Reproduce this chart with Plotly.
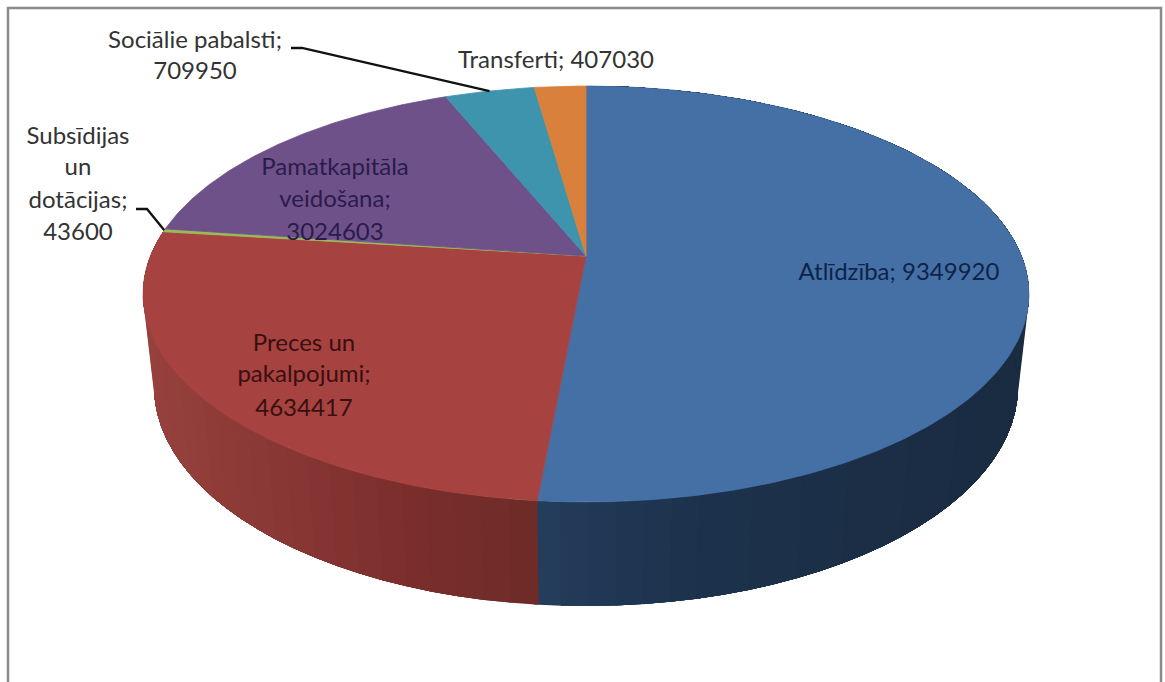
import numpy as np
import plotly.graph_objects as go

# --- data -------------------------------------------------------------
categories = ["Atlīdzība", "Preces un pakalpojumi", "Subsīdijas un dotācijas",
              "Pamatkapitāla veidošana", "Sociālie pabalsti", "Transferti"]
values = [9349920, 4634417, 43600, 3024603, 709950, 407030]
top_colors = ["#4470a6", "#a64240", "#9bbb59", "#6f5189", "#3e93ad", "#d9813c"]

W, H = 1165, 682
FONT = "Lato"
FS = 24

# --- projection of the tilted disc (pixel axes, y down) ---------------
CX, CY = 586.0, 256.0
A, B, K = 435.5, 201.0, 0.1827
C, M = 93.7, 0.0246


def proj(theta, h=0.0):
    u, v = np.sin(theta), np.cos(theta)
    d = 1 + K * v + M * h
    return CX + A * u / d, CY + (-B * v + C * h) / d


fractions = np.array(values, dtype=float) / sum(values)
edges = np.concatenate([[0], np.cumsum(fractions)]) * 2 * np.pi

side_stops = {
    0: ([538, 700, 1020], [(36, 62, 93), (29, 50, 76), (26, 44, 66)]),
    1: ([150, 400, 538], [(150, 65, 61), (124, 47, 45), (110, 43, 40)]),
}

fig = go.Figure()


def poly(xs, ys, color, name, lw=0.8):
    fig.add_trace(go.Scatter(x=list(xs), y=list(ys), mode="lines", fill="toself",
                             fillcolor=color, line=dict(color=color, width=lw),
                             hoverinfo="text", text=name, showlegend=False))


# side wall: each band runs on to the end of its slice, the next one paints
# over it, so that no seam shows between neighbouring bands
for i in (0, 1):
    xp, cp = side_stops[i]
    n = max(int((edges[i + 1] - edges[i]) / np.radians(3.0)), 1)
    ang = np.linspace(edges[i], edges[i + 1], n + 1)
    order = range(n) if i == 1 else range(n - 1, -1, -1)
    for k in order:
        if i == 1:
            seg = np.linspace(ang[k], edges[i + 1], n - k + 1)
        else:
            # the blue wall runs slightly under the red one
            seg = np.linspace(edges[i], ang[k + 1] + 0.01, k + 2)
        x_t, y_t = proj(seg)
        x_b, y_b = proj(seg[::-1], 1)
        xm = (proj(ang[k])[0] + proj(ang[k + 1])[0]) / 2
        rgb = [int(np.interp(xm, xp, [c[j] for c in cp])) for j in range(3)]
        poly(np.concatenate([x_t, x_b, x_t[:1]]), np.concatenate([y_t, y_b, y_t[:1]]),
             "rgb(%d,%d,%d)" % tuple(rgb), categories[i], lw=0)

# top face
for i in range(len(values)):
    ang = np.linspace(edges[i], edges[i + 1], max(int((edges[i + 1] - edges[i]) / 0.01), 2))
    rx, ry = proj(ang)
    poly(np.concatenate([[CX], rx, [CX]]), np.concatenate([[CY], ry, [CY]]),
         top_colors[i], categories[i])

# leader lines end on the rim at the middle of their slice
mid = (edges[:-1] + edges[1:]) / 2
lead_soc = proj(mid[4])
lead_sub = proj(mid[2])
fig.add_trace(go.Scatter(x=[291, 302, lead_soc[0]], y=[48, 48, lead_soc[1]], mode="lines",
                         line=dict(color="#111111", width=2.3), hoverinfo="skip", showlegend=False))
fig.add_trace(go.Scatter(x=[136, 147, lead_sub[0]], y=[209, 209, lead_sub[1]], mode="lines",
                         line=dict(color="#111111", width=2.3), hoverinfo="skip", showlegend=False))

# labels
labels = [
    (["Sociālie pabalsti;", "709950"], 195, [42, 73], "#333333"),
    (["Transferti; 407030"], 556, [62], "#333333"),
    (["Subsīdijas", "un", "dotācijas;", "43600"], 78, [138, 169, 202, 234], "#333333"),
    (["Pamatkapitāla", "veidošana;", "3024603"], 335, [169, 201, 234], "#2a1c4a"),
    (["Preces un", "pakalpojumi;", "4634417"], 304, [345, 376, 410], "#3a0f10"),
    (["Atlīdzība; 9349920"], 899, [274], "#0f2348"),
]
for lines, x, ys, col in labels:
    fig.add_trace(go.Scatter(x=[x] * len(lines), y=ys, mode="text", text=lines,
                             textposition="middle center",
                             textfont=dict(family=FONT, size=FS, color=col),
                             hoverinfo="skip", showlegend=False))

fig.update_layout(
    width=W, height=H, margin=dict(l=0, r=0, t=0, b=0),
    paper_bgcolor="white", plot_bgcolor="white",
    xaxis=dict(range=[0, W], visible=False, fixedrange=True),
    yaxis=dict(range=[H, 0], visible=False, fixedrange=True),
    shapes=[dict(type="rect", xref="x", yref="y", x0=8, y0=8, x1=1161, y1=H + 20,
                 line=dict(color="#8a8a8a", width=2.5), fillcolor="rgba(0,0,0,0)")],
)

fig.write_html("out.html", config=dict(displayModeBar=False),
               post_script="document.body.style.margin='0';")
